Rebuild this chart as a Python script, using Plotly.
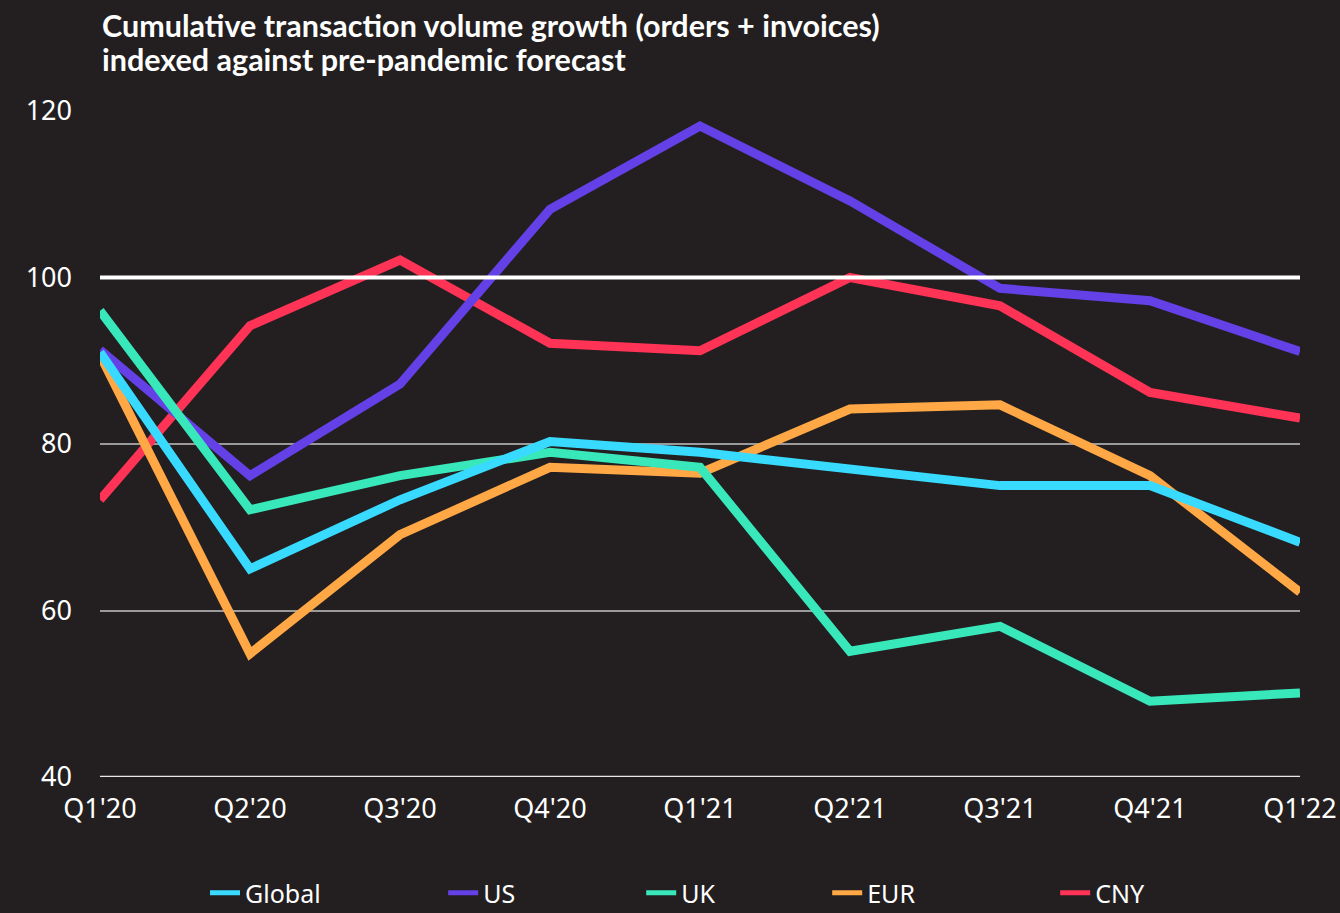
import plotly.graph_objects as go

quarters = ["Q1'20", "Q2'20", "Q3'20", "Q4'20", "Q1'21", "Q2'21", "Q3'21", "Q4'21", "Q1'22"]
global_vals = [91, 65, 73.3, 80.3, 79, 77.1, 75, 75, 68.2]
us_vals = [91.3, 76.2, 87.2, 108.2, 118.2, 109.2, 98.7, 97.2, 91.1]
uk_vals = [96, 72.1, 76.2, 79, 77.2, 55.1, 58.1, 49.1, 50.1]
eur_vals = [90.7, 54.8, 69.1, 77.2, 76.5, 84.2, 84.7, 76.2, 62.2]
cny_vals = [73.3, 94.2, 102.1, 92.1, 91.2, 100, 96.6, 86.2, 83.1]
y_ticks = [40, 60, 80, 100, 120]
baseline = 100
title_lines = ["Cumulative transaction volume growth (orders + invoices)",
               "indexed against pre-pandemic forecast"]

BG = "#231f20"
COLORS = {"Global": "#38dbff", "US": "#6441e6", "UK": "#38e8bb", "EUR": "#ffa845", "CNY": "#ff3356"}
draw_order = [("CNY", cny_vals), ("US", us_vals), ("EUR", eur_vals), ("UK", uk_vals), ("Global", global_vals)]
legend_order = ["Global", "US", "UK", "EUR", "CNY"]
legend_x = [0.0875, 0.286, 0.451, 0.606, 0.796]

W, H = 1340, 913
L, R, T, B = 100, 40, 111, 136

fig = go.Figure()
for name, vals in draw_order:
    fig.add_trace(go.Scatter(
        x=list(range(len(quarters))), y=vals, name=name, mode="lines",
        line=dict(color=COLORS[name], width=9), showlegend=False,
    ))

legend_layouts = {}
for i, (name, lx) in enumerate(zip(legend_order, legend_x)):
    key = "legend" if i == 0 else f"legend{i + 1}"
    fig.add_trace(go.Scatter(
        x=[None], y=[None], name=name, mode="lines",
        line=dict(color=COLORS[name], width=5), showlegend=True, legend=key,
    ))
    legend_layouts[key] = dict(
        orientation="h", x=lx, xanchor="left",
        yref="container", y=(H - 893) / H, yanchor="middle",
        font=dict(family="Noto Sans", size=25, color="white"),
        bgcolor="rgba(0,0,0,0)", borderwidth=0,
    )

fig.add_shape(type="line", xref="paper", x0=0, x1=1, yref="y", y0=baseline, y1=baseline,
              line=dict(color="white", width=4), layer="above")
fig.add_shape(type="line", xref="paper", x0=0, x1=1, yref="y", y0=y_ticks[0], y1=y_ticks[0],
              line=dict(color="#e8e8e8", width=2.5), layer="below")

for line_text, shift in zip(title_lines, [86, 52]):
    fig.add_annotation(
        text=line_text, xref="paper", yref="paper", x=0, y=1, xanchor="left", yanchor="middle",
        yshift=shift, showarrow=False,
        font=dict(family="Lato", size=30.5, color="white", weight="bold"),
    )

fig.update_layout(
    width=W, height=H,
    paper_bgcolor=BG, plot_bgcolor=BG,
    margin=dict(l=L, r=R, t=T, b=B),
    showlegend=True,
    xaxis=dict(
        tickvals=list(range(len(quarters))), ticktext=quarters, range=[0, len(quarters) - 1],
        showgrid=False, zeroline=False, showline=False, automargin=False,
        tickfont=dict(family="Noto Sans", size=27, color="white"),
        ticklabelstandoff=13, ticklabeloverflow="allow",
    ),
    yaxis=dict(
        range=[y_ticks[0], y_ticks[-1]], tickvals=y_ticks, automargin=False,
        showgrid=True, gridcolor="#9a9a9a", gridwidth=1.5, zeroline=False, showline=False,
        tickfont=dict(family="Noto Sans", size=27, color="white"),
        ticklabelstandoff=27,
    ),
    **legend_layouts,
)

fig.write_html(
    "out.html",
    config={"displayModeBar": False},
    post_script="document.documentElement.style.margin='0';"
                "document.body.style.margin='0';"
                "document.body.style.overflow='hidden';"
                "document.body.style.background='#231f20';"
                "document.documentElement.style.background='#231f20';",
)
